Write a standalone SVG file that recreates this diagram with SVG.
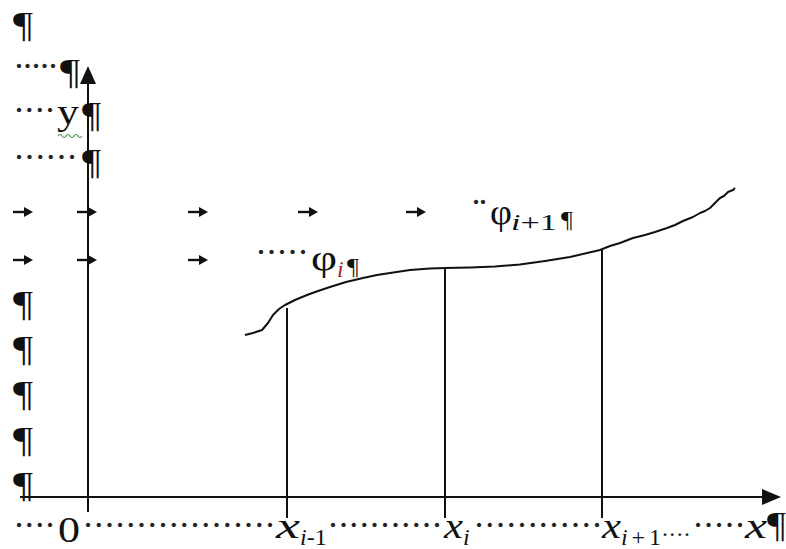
<svg xmlns="http://www.w3.org/2000/svg" xmlns:xlink="http://www.w3.org/1999/xlink" width="786" height="549" viewBox="0 0 786 549">
<style>
.t{font-family:"Liberation Serif","Times New Roman",serif;font-size:36px;fill:#111}
.d{fill:#222}
.s{font-size:24px}
.it{font-style:italic}
.red{fill:#a3262a}
.ln{stroke:#111;stroke-width:2;fill:none}
</style>
<defs>
<g id="tab"><path d="M0,0H13" stroke="#111" stroke-width="2.4"/><polygon points="11,-5 20,0 11,5" fill="#111"/></g>
</defs>
<rect width="786" height="549" fill="#fff"/>
<g id="axes">
<path class="ln" d="M88,80V512"/>
<polygon points="88,66 80,84 96,84" fill="#111"/>
<path class="ln" d="M20,497H766"/>
<polygon points="781,497 762,489 762,505" fill="#111"/>
</g>
<g id="connectors">
<path class="ln" d="M287,308V518"/>
<path class="ln" d="M445,268V518"/>
<path class="ln" d="M602,250V518"/>
<path class="ln" stroke-linejoin="round" d="M245,335 L253,333 262,330 268,323 273,315 279,309 285,305 295,300 307,295 318,291 330,287 346,282 363,278 377,275 390,273 410,270 430,268.5 445,268 470,267.5 495,266.5 520,264.5 545,261 570,257 600,250 610,246 620,243 633,238 645,235 655,232 667,228 675,225 683,221 693,217 700,213 705,211 710,208 715,203 720,198 724,196 728,192 733,190 735,188"/>
</g>
<g id="tabs">
<use xlink:href="#tab" x="13" y="212"/>
<use xlink:href="#tab" x="77" y="212"/>
<use xlink:href="#tab" x="188" y="212"/>
<use xlink:href="#tab" x="298" y="212"/>
<use xlink:href="#tab" x="406" y="212"/>
<use xlink:href="#tab" x="13" y="260"/>
<use xlink:href="#tab" x="77" y="260"/>
<use xlink:href="#tab" x="188" y="260"/>
</g>
<g id="marks">
<text class="t" x="13" y="37" textLength="20" lengthAdjust="spacingAndGlyphs">¶</text>
<text class="t d" x="13" y="78" textLength="46" lengthAdjust="spacing">·····</text>
<text class="t" x="60" y="84" textLength="20" lengthAdjust="spacingAndGlyphs">¶</text>
<text class="t d" x="13" y="122" textLength="43" lengthAdjust="spacing">····</text>
<text class="t" x="57" y="124" textLength="22" lengthAdjust="spacingAndGlyphs">y</text>
<path d="M58,136 q2,-3 4,0 t4,0 t4,0 t4,0 t4,0 t4,0" stroke="#3a9a3a" stroke-width="1.2" fill="none"/>
<text class="t" x="82" y="127" textLength="19" lengthAdjust="spacingAndGlyphs">¶</text>
<text class="t d" x="13" y="169" textLength="65" lengthAdjust="spacing">······</text>
<text class="t" x="82" y="174" textLength="19" lengthAdjust="spacingAndGlyphs">¶</text>
<text class="t d" x="470" y="214" textLength="19" lengthAdjust="spacing">··</text>
<text class="t" x="490" y="224" textLength="22" lengthAdjust="spacingAndGlyphs">φ</text>
<text class="t s" x="511" y="230" textLength="46" lengthAdjust="spacingAndGlyphs"><tspan class="it">i</tspan>+1</text>
<text class="t s" x="561" y="227" textLength="12" lengthAdjust="spacingAndGlyphs">¶</text>
<text class="t d" x="255" y="264" textLength="54" lengthAdjust="spacing">·····</text>
<text class="t" x="311" y="270" textLength="26" lengthAdjust="spacingAndGlyphs">φ</text>
<text class="t s it red" x="337" y="277">i</text>
<text class="t s" x="347" y="274" textLength="12" lengthAdjust="spacingAndGlyphs">¶</text>
<text class="t" x="13" y="316" textLength="20" lengthAdjust="spacingAndGlyphs">¶</text>
<text class="t" x="13" y="361" textLength="20" lengthAdjust="spacingAndGlyphs">¶</text>
<text class="t" x="13" y="406" textLength="20" lengthAdjust="spacingAndGlyphs">¶</text>
<text class="t" x="13" y="452" textLength="20" lengthAdjust="spacingAndGlyphs">¶</text>
<text class="t" x="13" y="497" textLength="20" lengthAdjust="spacingAndGlyphs">¶</text>
</g>
<g id="xlabels">
<text class="t d" x="13" y="537" textLength="43" lengthAdjust="spacing">····</text>
<text class="t" x="58" y="542" textLength="22" lengthAdjust="spacingAndGlyphs">0</text>
<text class="t d" x="82" y="537" textLength="194" lengthAdjust="spacing">··················</text>
<text class="t it" x="276" y="538" textLength="24" lengthAdjust="spacingAndGlyphs">x</text>
<text class="t s" x="300" y="545"><tspan class="it">i</tspan>-1</text>
<text class="t d" x="327" y="537" textLength="116" lengthAdjust="spacing">···········</text>
<text class="t it" x="444" y="538" textLength="19" lengthAdjust="spacingAndGlyphs">x</text>
<text class="t s it" x="463" y="545">i</text>
<text class="t d" x="473" y="537" textLength="130" lengthAdjust="spacing">············</text>
<text class="t it" x="602" y="538" textLength="19" lengthAdjust="spacingAndGlyphs">x</text>
<text class="t s" x="621" y="545" textLength="40" lengthAdjust="spacing"><tspan class="it">i</tspan>+1</text>
<text class="t s d" x="661" y="542" textLength="30" lengthAdjust="spacing">····</text>
<text class="t d" x="692" y="537" textLength="54" lengthAdjust="spacing">·····</text>
<text class="t it" x="745" y="538" textLength="22" lengthAdjust="spacingAndGlyphs">x</text>
<text class="t" x="767" y="537" textLength="19" lengthAdjust="spacingAndGlyphs">¶</text>
</g>
</svg>
